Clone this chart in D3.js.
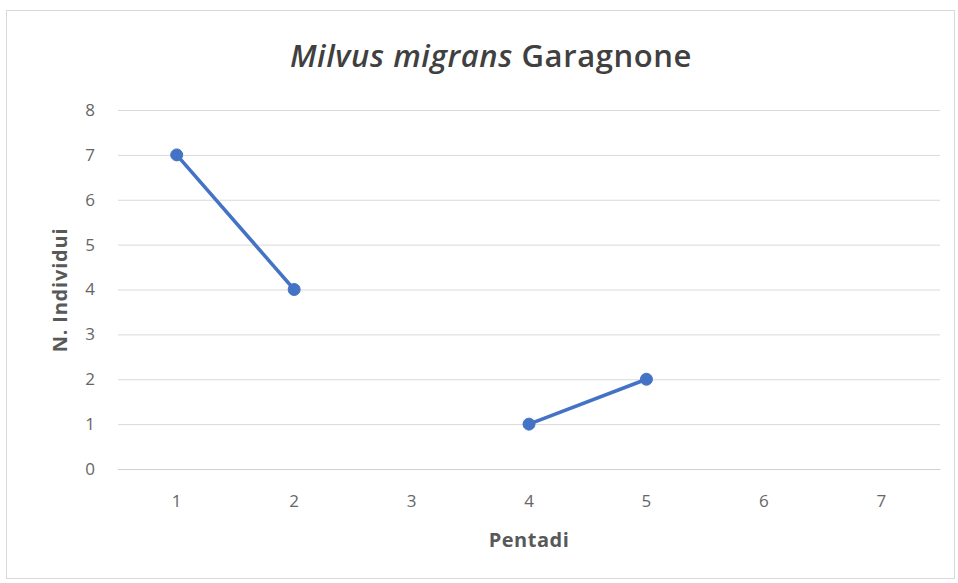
<!DOCTYPE html>
<html>
<head>
<meta charset="utf-8">
<script src="https://cdn.jsdelivr.net/npm/d3@7"></script>
<style>
  body { margin: 0; background: #fff; }
  svg { display: block; }
  svg text { font-family: "Open Sans", "Noto Sans", sans-serif; }
</style>
</head>
<body>
<div id="chart"></div>
<script>
// dati
const pentadi = ["1", "2", "3", "4", "5", "6", "7"];
const individui = [7, 4, null, 1, 2, null, null];
const yTicks = [0, 1, 2, 3, 4, 5, 6, 7, 8];

const width = 958, height = 583;
const svg = d3.select("#chart").append("svg")
  .attr("width", width)
  .attr("height", height);

// cornice
svg.append("rect")
  .attr("x", 6.5).attr("y", 10.5)
  .attr("width", 948).attr("height", 568)
  .attr("fill", "#fff")
  .attr("stroke", "#d9d9d9");

const x = d3.scaleBand().domain(pentadi).range([118, 940]);
const y = d3.scaleLinear().domain([0, 8]).range([469, 110]);

// griglia
svg.append("g")
  .attr("transform", "translate(118,0)")
  .call(d3.axisLeft(y).tickValues(yTicks).tickSize(-822).tickFormat(""))
  .call(g => g.select(".domain").remove())
  .call(g => g.selectAll("line").attr("stroke", "#d9d9d9").attr("stroke-width", 1));

// etichette asse y
svg.append("g")
  .attr("transform", "translate(118,0)")
  .call(d3.axisLeft(y).tickValues(yTicks).tickSize(0).tickPadding(23))
  .call(g => g.select(".domain").remove())
  .call(g => g.selectAll("text").attr("fill", "#666").attr("font-size", "17px"));

// etichette asse x
svg.append("g")
  .attr("transform", "translate(0,469)")
  .call(d3.axisBottom(x).tickSize(0).tickPadding(26))
  .call(g => g.select(".domain").attr("stroke", "#d0d0d0"))
  .call(g => g.selectAll("text").attr("fill", "#666").attr("font-size", "17px"));

// linea
const line = d3.line()
  .defined(d => d != null)
  .x((d, i) => x(pentadi[i]) + x.bandwidth() / 2)
  .y(d => y(d));

svg.append("path")
  .datum(individui)
  .attr("d", line)
  .attr("fill", "none")
  .attr("stroke", "#4472c4")
  .attr("stroke-width", 3.5);

svg.selectAll(".punto")
  .data(individui.map((v, i) => ({ v, k: pentadi[i] })).filter(d => d.v != null))
  .enter()
  .append("circle")
  .attr("class", "punto")
  .attr("cx", d => x(d.k) + x.bandwidth() / 2)
  .attr("cy", d => y(d.v))
  .attr("r", 6)
  .attr("fill", "#4472c4")
  .attr("stroke", "#4472c4");

// titolo
const title = svg.append("text")
  .attr("x", 491).attr("y", 67)
  .attr("text-anchor", "middle")
  .attr("font-size", "31px")
  .attr("font-weight", 600)
  .attr("letter-spacing", "0.6px")
  .attr("fill", "#404040");
title.append("tspan").attr("font-style", "italic").text("Milvus migrans");
title.append("tspan").text(" Garagnone");

// titoli assi
svg.append("text")
  .attr("transform", "translate(67,290) rotate(-90)")
  .attr("text-anchor", "middle")
  .attr("font-size", "20px")
  .attr("letter-spacing", "0.8px")
  .attr("font-weight", "bold")
  .attr("fill", "#595959")
  .text("N. Individui");

svg.append("text")
  .attr("x", 529).attr("y", 547)
  .attr("text-anchor", "middle")
  .attr("font-size", "20px")
  .attr("letter-spacing", "0.5px")
  .attr("font-weight", "bold")
  .attr("fill", "#595959")
  .text("Pentadi");
</script>
</body>
</html>
